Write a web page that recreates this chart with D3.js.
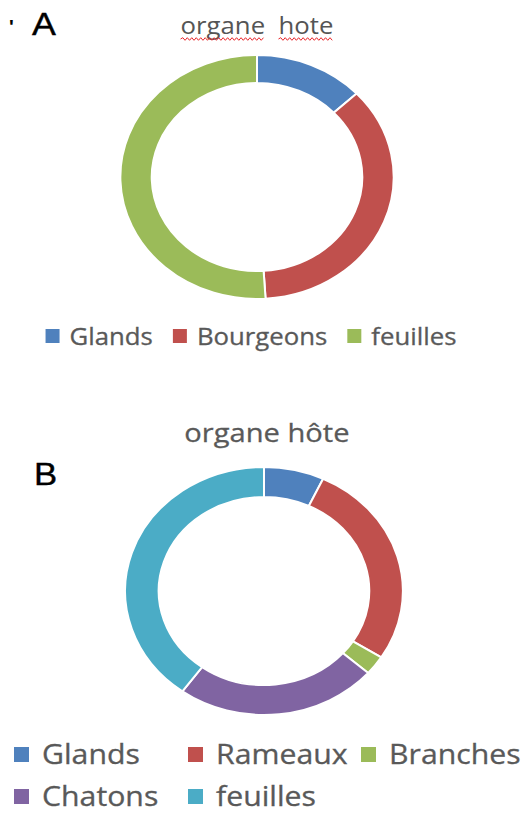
<!DOCTYPE html>
<html lang="fr">
<head>
  <meta charset="UTF-8">
  <title>organe hôte</title>
  <script src="https://d3js.org/d3.v7.min.js"></script>
  <style>
    body { margin: 0; background: white; overflow: hidden; }
    text { font-family: "Open Sans", sans-serif; }
  </style>
</head>
<body>
  <script>
    // data
    const categoriesA = ["Glands", "Bourgeons", "feuilles"];
    const valuesA = [13, 36, 51];
    const colorsA = ["#4F81BD", "#C0504D", "#9BBB59"];

    const categoriesB = ["Glands", "Rameaux", "Branches", "Chatons", "feuilles"];
    const valuesB = [7, 27, 2.5, 23.5, 40];
    const colorsB = ["#4F81BD", "#C0504D", "#9BBB59", "#8064A2", "#4BACC6"];

    const titleA = "organe  hote";
    const titleB = "organe hôte";

    const width = 526, height = 813;
    const SX = 1.12; // the picture is a bit wider than tall
    const X = px => px / SX;

    const svg = d3.select("body").append("svg")
      .attr("width", width)
      .attr("height", height);

    const root = svg.append("g").attr("transform", `scale(${SX},1)`);

    function donut(cx, cy, rOut, rIn, cats, vals, cols) {
      const pie = d3.pie().sort(null).value(d => d)(vals);
      const arc = d3.arc().innerRadius(rIn).outerRadius(rOut);
      root.append("g")
        .attr("transform", `translate(${X(cx)},${cy})`)
        .selectAll("path")
        .data(pie)
        .enter()
        .append("path")
        .attr("d", arc)
        .attr("fill", (d, i) => cols[i])
        .attr("stroke", "white")
        .attr("stroke-width", 2)
        .attr("vector-effect", "non-scaling-stroke");
    }

    function wavy(x0, x1, y) {
      let d = `M${x0},${y}`;
      let up = true;
      for (let x = x0 + 2; x <= x1; x += 2) {
        d += ` L${x},${y + (up ? -1.3 : 1.3)}`;
        up = !up;
      }
      root.append("path")
        .attr("d", d)
        .attr("fill", "none")
        .attr("stroke", "#e8262b")
        .attr("stroke-width", 1)
        .attr("vector-effect", "non-scaling-stroke");
    }

    // ---- A ----
    root.append("text")
      .attr("x", X(9)).attr("y", 33)
      .style("font-family", "Liberation Sans")
      .style("font-size", "18px")
      .style("font-weight", "bold")
      .attr("fill", "black")
      .text("'");
    root.append("text")
      .attr("x", X(32)).attr("y", 35)
      .style("font-family", "Liberation Sans")
      .style("font-size", "32px")
      .attr("fill", "black")
      .attr("stroke", "black")
      .attr("stroke-width", 0.4)
      .text("A");

    const tA = root.append("text")
      .attr("x", X(257)).attr("y", 34)
      .attr("text-anchor", "middle")
      .style("font-size", "23px")
      .attr("fill", "#555555")
      .attr("xml:space", "preserve")
      .style("white-space", "pre")
      .text(titleA);
    {
      const node = tA.node();
      const start = node.getStartPositionOfChar(0).x;
      const w1 = node.getSubStringLength(0, 6);
      const s2 = node.getStartPositionOfChar(8).x;
      const w2 = node.getSubStringLength(8, 4);
      wavy(start, start + w1, 39);
      wavy(s2, s2 + w2, 39);
    }

    donut(257, 177, 122, 94, categoriesA, valuesA, colorsA);

    // legend A, one row centred
    {
      const g = root.append("g");
      let x = 0;
      categoriesA.forEach((c, i) => {
        g.append("rect")
          .attr("x", x).attr("y", 329)
          .attr("width", X(14)).attr("height", 14)
          .attr("fill", colorsA[i]);
        const t = g.append("text")
          .attr("x", x + X(24)).attr("y", 345)
          .style("font-size", "23px")
          .attr("fill", "#595959")
          .attr("stroke", "#595959")
          .attr("stroke-width", 0.3)
          .text(c);
        x += X(24) + t.node().getComputedTextLength() + X(20);
      });
      const total = x - X(20);
      g.attr("transform", `translate(${X(43) + (X(459) - X(43) - total) / 2},0)`);
    }

    // ---- B ----
    root.append("text")
      .attr("x", X(34)).attr("y", 485)
      .style("font-family", "Liberation Sans")
      .style("font-size", "31px")
      .attr("fill", "black")
      .attr("stroke", "black")
      .attr("stroke-width", 0.4)
      .text("B");

    root.append("text")
      .attr("x", X(267)).attr("y", 442)
      .attr("text-anchor", "middle")
      .style("font-size", "26px")
      .attr("fill", "#595959")
      .attr("stroke", "#595959")
      .attr("stroke-width", 0.3)
      .text(titleB);

    donut(264, 591, 124, 94, categoriesB, valuesB, colorsB);

    // legend B, 3-column grid
    {
      const colX = [14, 188, 361];
      const rowY = [747, 789];
      categoriesB.forEach((c, i) => {
        const col = i % 3, row = Math.floor(i / 3);
        root.append("rect")
          .attr("x", X(colX[col])).attr("y", rowY[row])
          .attr("width", X(15)).attr("height", 15)
          .attr("fill", colorsB[i]);
        root.append("text")
          .attr("x", X(colX[col] + 28)).attr("y", rowY[row] + 17)
          .style("font-size", "27px")
          .attr("fill", "#595959")
          .attr("stroke", "#595959")
          .attr("stroke-width", 0.3)
          .text(c);
      });
    }
  </script>
</body>
</html>
